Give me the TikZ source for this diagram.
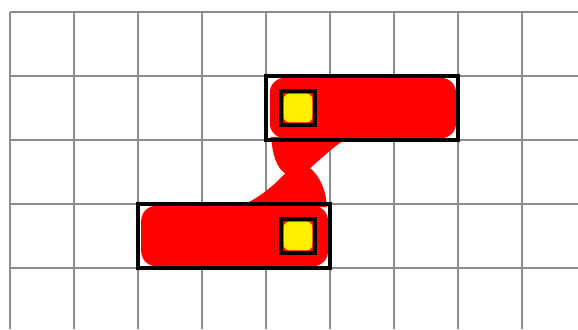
\documentclass[tikz,border=0pt]{standalone}
\usepackage{tikz}
\tikzset{
  layoutgrid/.style={draw=black!45,line width=0.6pt},
  metalwire/.style={fill=red,draw=none},
  cellframe/.style={draw=black,line width=1.4pt},
  viafill/.style={fill=yellow,rounded corners=0.09cm},
  viaframe/.style={draw=black,line width=1.4pt}
}
\begin{document}
\begin{tikzpicture}[x=1cm,y=1cm]
  \useasboundingbox (-0.15625,-0.953125) rectangle (8.875,4.1875);
  \draw[layoutgrid] (0,-0.953125) grid (8.875,4);
  % metal wire
  \fill[metalwire,rounded corners=0.23cm] (4.06,2.03) rectangle (6.97,2.97);
  \fill[metalwire,rounded corners=0.23cm] (2.05,0.03) rectangle (4.97,0.97);
  \fill[metalwire] (4.08,2.05) .. controls (4.10,1.75) and (4.18,1.55) .. (4.30,1.48)
    .. controls (4.15,1.32) and (3.90,1.08) .. (3.55,0.95) -- (4.95,0.95)
    .. controls (4.94,1.25) and (4.82,1.45) .. (4.69,1.56)
    .. controls (4.85,1.70) and (5.05,1.90) .. (5.30,2.05) -- cycle;
  % contacts
  \foreach \cy/\cname in {2.5/top,0.5/bottom} {
    \fill[viafill] (4.5-0.225,\cy-0.225) rectangle (4.5+0.225,\cy+0.225);
    \draw[viaframe] (4.5-0.265,\cy-0.265) rectangle (4.5+0.265,\cy+0.265);
  }
  % cell frames
  \draw[cellframe] (4,2) rectangle (7,3);
  \draw[cellframe] (2,0) rectangle (5,1);
\end{tikzpicture}
\end{document}
